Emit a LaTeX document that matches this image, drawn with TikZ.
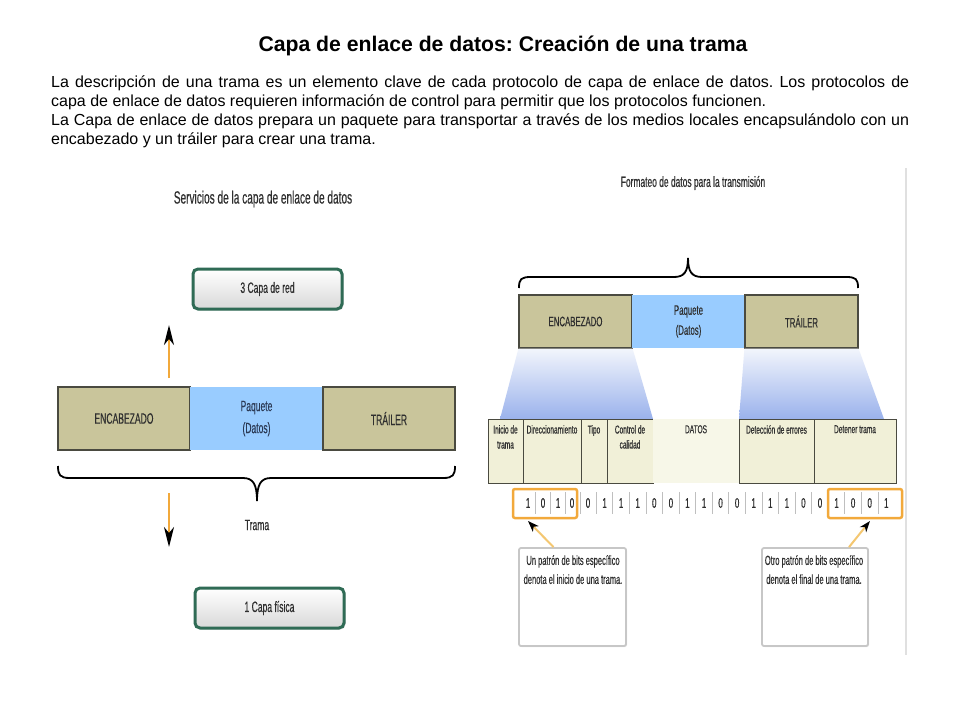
\documentclass[tikz,border=0pt]{standalone}
\usepackage{fontspec}
\setmainfont{Liberation Sans}
\newfontfamily\nf{Liberation Sans}[FakeStretch=0.57,FakeBold=0.35]
\usetikzlibrary{arrows.meta,shadows,calc}
\definecolor{olivec}{HTML}{C9C59B}
\definecolor{pblue}{HTML}{99CCFF}
\definecolor{gborder}{HTML}{2F6B55}
\definecolor{orng}{HTML}{F2A93B}
\definecolor{lorng}{HTML}{F4C771}
\definecolor{fieldc}{HTML}{F1F0D8}
\definecolor{datosc}{HTML}{F7F7E8}
\definecolor{tblue}{HTML}{9AB2EC}
\definecolor{ttop}{HTML}{F2F5FC}
\definecolor{dtext}{HTML}{2F2F2F}
\definecolor{ntext}{HTML}{2B3A55}
\definecolor{cellb}{HTML}{4A4A40}
\begin{document}
\begin{tikzpicture}[x=1pt,y=-1pt,
  dtxt/.style={font=\nf\fontsize{15}{22}\selectfont, text=dtext, align=center, inner sep=0},
  olivecell/.style={draw=cellb, line width=1.2, fill=olivec, dtxt, minimum height=63},
  bluecell/.style={fill=pblue, dtxt, text=ntext, minimum height=63},
  olivecellR/.style={draw=cellb, line width=1.2, fill=olivec, dtxt, font=\nf\fontsize{13.7}{20}\selectfont, minimum width=113, minimum height=53},
  bluecellR/.style={fill=pblue, dtxt, font=\nf\fontsize{13.7}{20}\selectfont, minimum width=113, minimum height=53},
  layerbox/.style={draw=gborder, line width=3, rounded corners=5, top color=white, bottom color=black!15, minimum width=149, minimum height=40, dtxt, drop shadow={opacity=0.25,shadow xshift=1.5pt,shadow yshift=-1.5pt}},
  field/.style={draw=cellb, line width=0.8, fill=fieldc, minimum height=64, inner sep=0},
  flabel/.style={font=\nf\fontsize{11.5}{15}\selectfont, text=dtext, align=center, anchor=north, inner sep=0},
  bit/.style={font=\nf\fontsize{14}{14}\selectfont, text=dtext, inner sep=0},
  bitbox/.style={draw=orng, line width=2.5, rounded corners=2, minimum height=29, inner sep=0},
  callout/.style={draw=black!22, line width=1.8, rounded corners=2, fill=white, minimum width=107, minimum height=98, drop shadow={opacity=0.15,shadow xshift=1pt,shadow yshift=-1pt}},
  ctext/.style={font=\nf\fontsize{13.2}{19}\selectfont, text=dtext, align=center, anchor=north, inner sep=0},
  flowarrow/.style={draw=orng, line width=2, -{Stealth[length=20pt,width=10pt,inset=6pt,color=black]}},
  callarrow/.style={draw=lorng, line width=2, -{Stealth[length=11pt,width=8pt,inset=3pt,color=black]}},
  brace/.style={draw=black, line width=1.8}
]
\fill[white] (0,0) rectangle (960,720);
\useasboundingbox (0,0) rectangle (960,720);

% title and text
\node[font=\bfseries\fontsize{21.2}{24}\selectfont, inner sep=0] (title) at (503,46) {\frenchspacing Capa de enlace de datos: Creación de una trama};
\node[anchor=north west, text width=858pt, inner sep=0, align=justify, font=\fontsize{16}{19}\selectfont] (body) at (51,75.5)
{\frenchspacing\hyphenpenalty=10000 La descripción de una trama es un elemento clave de cada protocolo de capa de enlace de datos. Los protocolos de\linebreak capa de enlace de datos requieren información de control para permitir que los protocolos funcionen.\\
La Capa de enlace de datos prepara un paquete para transportar a través de los medios locales encapsulándolo con un\linebreak encabezado y un tráiler para crear una trama.};

% ---------------- left diagram
\node[dtxt, font=\nf\fontsize{17.7}{20}\selectfont] (capL) at (263,199) {Servicios de la capa de enlace de datos};
\node[layerbox] (red) at (267.5,289) {3 Capa de red};
\node[olivecell, minimum width=132] (encL) at (124,418.5) {ENCABEZADO};
\node[bluecell, minimum width=133] (paqL) at (256.5,418.5) {Paquete\\(Datos)};
\node[olivecell, minimum width=132] (traL) at (389,418.5) {TRÁILER};
\draw[brace] (58,466) .. controls (58,475) and (60,478) .. (70,478) -- (243,478) .. controls (253,478) and (257,484) .. (257,501) .. controls (257,484) and (261,478) .. (271,478) -- (443,478) .. controls (453,478) and (455,475) .. (455,466);
\node[dtxt] (trama) at (257,525) {Trama};
\coordinate (upA) at (169,378);
\coordinate (upB) at (169,325);
\draw[flowarrow] (upA) -- (upB);
\coordinate (dnA) at (169,493);
\coordinate (dnB) at (169,547);
\draw[flowarrow] (dnA) -- (dnB);
\node[layerbox] (fis) at (269.5,608) {1 Capa física};

% ---------------- right diagram
\draw[black!12, line width=1.5] (906,168) -- (906,655);
\node[dtxt, font=\nf\fontsize{14.8}{20}\selectfont] (capR) at (693,183) {Formateo de datos para la transmisión};
\draw[brace] (519,288) .. controls (519,279) and (521,277) .. (531,277) -- (674,277) .. controls (684,277) and (688,272) .. (688,258) .. controls (688,272) and (692,277) .. (702,277) -- (846,277) .. controls (856,277) and (858,279) .. (858,288);
\node[olivecellR] (encR) at (575.5,321.5) {ENCABEZADO};
\node[bluecellR] (paqR) at (688.5,321.5) {Paquete\\(Datos)};
\node[olivecellR] (traR) at (801.5,321.5) {TRÁILER};
\shade[top color=ttop, bottom color=tblue] (encR.south west) -- (encR.south east) -- (653,419) -- (500,419) -- cycle;
\shade[top color=ttop, bottom color=tblue] (traR.south west) -- (traR.south east) -- (884,419) -- (739,419) -- cycle;

\node[field, minimum width=35] (f1) at (505.5,451) {};
\node[field, minimum width=58] (f2) at (552,451) {};
\node[field, minimum width=26] (f3) at (594,451) {};
\node[field, minimum width=46] (f4) at (630,451) {};
\node[fill=datosc, minimum width=86, minimum height=64, inner sep=0] (f5) at (696,451) {};
\node[field, minimum width=75] (f6) at (776.5,451) {};
\node[field, minimum width=82] (f7) at (855,451) {};
\node[flabel] (l1) at (505.5,425) {Inicio de\\trama};
\node[flabel] (l2) at (552,425) {Direccionamiento};
\node[flabel] (l3) at (594,425) {Tipo};
\node[flabel] (l4) at (630,425) {Control de\\calidad};
\node[flabel] (l5) at (696,425) {DATOS};
\node[flabel] (l6) at (776.5,425) {Detección de errores};
\node[flabel] (l7) at (855,425) {Detener trama};

% bits
\foreach \x/\b [count=\k from 0] in {528/1,543/0,558/1,572/0,588/0,604.6/1,621.1/1,637.7/1,654.3/0,670.9/0,687.4/1,704/1,720.6/0,737.1/0,753.7/1,770.3/1,786.9/1,803.4/0,820/0,836.6/1,853.1/0,869.7/0,886.3/1}
  \node[bit] (b\k) at (\x,503) {\b};
\foreach \k [evaluate=\k as \n using int(\k+1)] in {0,...,21}
  \draw[black!25, line width=0.8] ($(b\k)!0.5!(b\n)$) ++(0,-11) -- ++(0,22);
\node[bitbox, minimum width=64] (bb1) at (545,503.5) {};
\node[bitbox, minimum width=74] (bb2) at (865,503.5) {};

% callouts
\node[callout] (c1) at (572.5,597) {};
\node[ctext] (c1t) at (573,555) {Un patrón de bits específico\\denota el inicio de una trama.};
\node[callout, minimum width=106] (c2) at (815,597) {};
\node[ctext] (c2t) at (814,555) {Otro patrón de bits específico\\denota el final de una trama.};
\coordinate (tip1) at (528,521);
\coordinate (tip2) at (870,521);
\draw[callarrow] ([xshift=-19pt]c1.north) -- (tip1);
\draw[callarrow] ([xshift=34pt]c2.north) -- (tip2);
\end{tikzpicture}
\end{document}
